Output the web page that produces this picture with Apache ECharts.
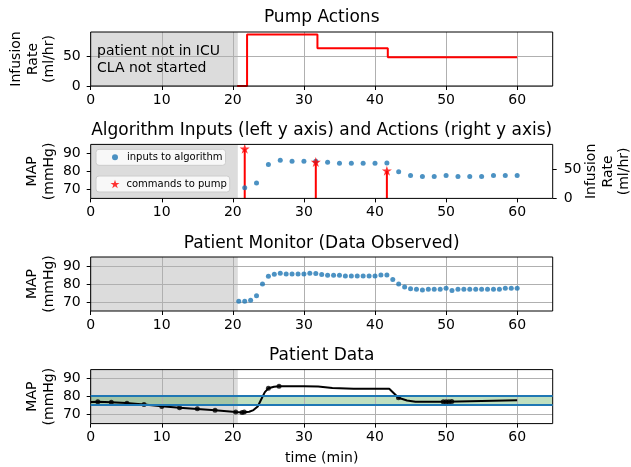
<!DOCTYPE html>
<html>
<head>
<meta charset="utf-8">
<script src="https://cdn.jsdelivr.net/npm/echarts@6/dist/echarts.min.js"></script>
<style>
html,body{margin:0;padding:0;background:#fff;}
#chart{width:631px;height:467px;}
</style>
</head>
<body>
<div id="chart"></div>
<script>
// x axis / shared
var timeTicks = [0, 10, 20, 30, 40, 50, 60];
var mapTicks = [70, 80, 90];
var rateTicks = [0, 50];
var notStartedEnd = 20.7; // grey "patient not in ICU" region ends here (min)

// Pump Actions (step line)
var pumpTimes = [20.6, 22.0, 31.9, 41.8, 60];
var pumpRates = [0, 86, 63, 48, 48];

// Algorithm inputs (left axis) and commands (right axis)
var inputTimes = [21.67, 23.33, 25, 26.67, 28.33, 30, 31.67, 33.33, 35, 36.67, 38.33, 40,
  41.67, 43.33, 45, 46.67, 48.33, 50, 51.67, 53.33, 55, 56.67, 58.33, 60];
var inputMap = [70.9, 73.6, 83.9, 86.2, 85.6, 85.6, 85.6, 85.1, 84.5, 84.5, 84.5, 84.5,
  84.7, 79.8, 77.7, 77.1, 77.1, 77.7, 77.1, 77.1, 77.1, 77.7, 77.7, 77.7];
var cmdTimes = [21.67, 31.67, 41.67];
var cmdRates = [86, 63, 48];

// Patient monitor (observed)
var monitorTimes = [20.83, 21.67, 22.5, 23.33, 24.17, 25, 25.83, 26.67, 27.5, 28.33, 29.17, 30,
  30.83, 31.67, 32.5, 33.33, 34.17, 35, 35.83, 36.67, 37.5, 38.33, 39.17, 40,
  40.83, 41.67, 42.5, 43.33, 44.17, 45, 45.83, 46.67, 47.5, 48.33, 49.17, 50,
  50.83, 51.67, 52.5, 53.33, 54.17, 55, 55.83, 56.67, 57.5, 58.33, 59.17, 60];
var monitorMap = [70.4, 70.4, 71.0, 73.5, 80.0, 84.3, 85.4, 86.0, 85.5, 85.5, 85.5, 85.5,
  86.0, 85.8, 85.3, 84.9, 84.9, 84.9, 84.5, 84.5, 84.5, 84.5, 84.5, 84.5,
  85.0, 85.0, 82.5, 80.0, 78.4, 77.3, 77.1, 76.7, 77.1, 77.1, 77.1, 77.7,
  76.4, 77.1, 77.1, 77.1, 77.1, 77.1, 77.1, 77.1, 77.1, 77.6, 77.6, 77.6];

// Patient data (true MAP curve + sample markers)
var patientTimes = [0, 1, 2.9, 5, 7.5, 10, 12.5, 15, 17.5, 20.4, 21.3, 22.3, 22.9, 23.5, 24.0,
  24.5, 25, 25.8, 26.5, 30, 32, 34, 37, 42, 43.3, 44.5, 45.7, 50, 55, 60];
var patientMap = [77.0, 77.2, 76.9, 76.4, 75.6, 74.6, 73.8, 73.1, 72.4, 71.4, 71.2, 71.6, 72.5, 74.5, 78.5,
  82.5, 84.6, 85.5, 85.8, 85.8, 85.6, 84.8, 84.4, 84.4, 79.4, 77.8, 77.1, 77.2, 77.6, 78.0];
var sampleTimes = [1, 2.9, 5.1, 7.5, 10, 12.5, 15, 17.5, 20.4, 21.3, 21.6, 25, 26.5, 43.3, 49.6, 50, 50.4, 50.8];
var sampleMap = [77.2, 76.9, 76.3, 75.6, 74.5, 73.8, 73.2, 72.4, 71.4, 71.1, 71.4, 84.6, 85.8, 79.3, 77.1, 77.2, 77.2, 77.3];
var targetLow = 75.3, targetHigh = 80.6;

function pairs(xs, ys) {
  return xs.map(function (x, i) { return [x, ys[i]]; });
}

var FONT = 'DejaVu Sans';
var myChart = echarts.init(document.getElementById('chart'), null, {renderer: 'canvas'});

var gridLeft = 90.7, gridW = 462, gridH = 54;
var tops = [32, 144.4, 257, 369.6];
var grids = tops.map(function (t) {
  return {left: gridLeft, width: gridW, top: t, height: gridH, show: true,
    containLabel: false, outerBoundsMode: 'none',
    borderColor: '#000', borderWidth: 1, backgroundColor: 'transparent', z: 5};
});

function xAx(i) {
  return {
    type: 'value', gridIndex: i, min: 0, max: 65, interval: 10, z: 2,
    axisLine: {show: false},
    axisTick: {show: true, length: 4, lineStyle: {color: '#000'}, customValues: timeTicks},
    axisLabel: {fontSize: 14, color: '#000', margin: 7, fontFamily: FONT, customValues: timeTicks},
    splitLine: {show: i !== 1, lineStyle: {color: '#b0b0b0', width: 1}, customValues: timeTicks},
    name: i === 3 ? 'time (min)' : '', nameLocation: 'middle', nameGap: 28,
    nameTextStyle: {fontSize: 14, color: '#000', fontFamily: FONT}
  };
}
function yAx(i, min, max, ticks, pos, grid) {
  return {
    type: 'value', gridIndex: i, min: min, max: max, z: 2,
    position: pos || 'left',
    axisLine: {show: false},
    axisTick: {show: true, length: 4, lineStyle: {color: '#000'}, customValues: ticks},
    axisLabel: {fontSize: 14, color: '#000', margin: pos === 'right' ? 11 : 10, fontFamily: FONT, customValues: ticks},
    splitLine: {show: !!grid, lineStyle: {color: '#b0b0b0', width: 1}, customValues: ticks}
  };
}

function greyArea(i) {
  return {
    type: 'line', xAxisIndex: i, yAxisIndex: i, data: [], z: 0, silent: true,
    markArea: {silent: true, itemStyle: {color: 'rgba(0,0,0,0.137)'},
      data: [[{xAxis: 0}, {xAxis: notStartedEnd}]]}
  };
}

// vertical stem from 0 up to the commanded rate
function renderStem(params, api) {
  var top = api.coord([api.value(0), api.value(1)]);
  var base = api.coord([api.value(0), 0]);
  return {type: 'line', shape: {x1: top[0], y1: top[1], x2: base[0], y2: base[1]},
    style: {stroke: 'red', lineWidth: 2}};
}

// rotated y-axis titles
function yTitle(text, x, gridTop) {
  return {type: 'text', x: x, y: gridTop + gridH / 2, rotation: Math.PI / 2, z: 10,
    style: {text: text, fontSize: 14, lineHeight: 16.5, fontFamily: FONT, fill: '#000',
      align: 'center', verticalAlign: 'middle'}};
}
function title(text, y) {
  return {type: 'text', x: gridLeft + gridW / 2, y: y, z: 10,
    style: {text: text, fontSize: 17, fontFamily: FONT, fill: '#000', align: 'center', verticalAlign: 'middle'}};
}

var starPath = 'path://M50,0 L62,36 L100,36 L69,58 L81,95 L50,72 L19,95 L31,58 L0,36 L38,36 Z';

var option = {
  animation: false,
  textStyle: {fontFamily: FONT},
  grid: grids,
  xAxis: [xAx(0), xAx(1), xAx(2), xAx(3)],
  yAxis: [
    yAx(0, 0, 90, rateTicks, 'left', true),
    yAx(1, 65, 95, mapTicks, 'left', false),
    yAx(2, 65, 95, mapTicks, 'left', true),
    yAx(3, 65, 95, mapTicks, 'left', true),
    yAx(1, 0, 93.6, rateTicks, 'right', false)
  ],
  legend: [
    {data: ['inputs to algorithm'], left: 96, top: 149.3, padding: [3, 3, 3, 16],
      itemWidth: 6, itemHeight: 6, backgroundColor: 'rgba(255,255,255,0.8)',
      borderColor: '#cccccc', borderWidth: 1, borderRadius: 3, z: 8,
      textStyle: {fontSize: 10, color: '#000', fontFamily: FONT, padding: [0, 0, 0, 4]}},
    {data: ['commands to pump'], left: 96, top: 176, padding: [3, 3, 3, 14.5],
      itemWidth: 9, itemHeight: 9, backgroundColor: 'rgba(255,255,255,0.8)',
      borderColor: '#cccccc', borderWidth: 1, borderRadius: 3, z: 8,
      textStyle: {fontSize: 10, color: '#000', fontFamily: FONT, padding: [0, 0, 0, 2]}}
  ],
  graphic: [
    title('Pump Actions', 18),
    title('Algorithm Inputs (left y axis) and Actions (right y axis)', 130.5),
    title('Patient Monitor (Data Observed)', 243.5),
    title('Patient Data', 356),
    {type: 'text', x: 97, y: 43.5, z: 10, style: {text: 'patient not in ICU\nCLA not started', fontSize: 14, lineHeight: 16.5, fontFamily: FONT, fill: '#000'}},
    yTitle('Infusion\nRate\n(ml/hr)', 33, tops[0]),
    yTitle('MAP\n(mmHg)', 40.8, tops[1]),
    yTitle('MAP\n(mmHg)', 40.8, tops[2]),
    yTitle('MAP\n(mmHg)', 40.8, tops[3]),
    yTitle('Infusion\nRate\n(ml/hr)', 608.2, tops[1])
  ],
  series: [
    greyArea(0), greyArea(1), greyArea(2), greyArea(3),
    // Pump actions
    {type: 'line', xAxisIndex: 0, yAxisIndex: 0, step: 'end', showSymbol: false, z: 3,
      lineStyle: {color: 'red', width: 2}, data: pairs(pumpTimes, pumpRates)},
    // Algorithm inputs
    {name: 'inputs to algorithm', type: 'scatter', xAxisIndex: 1, yAxisIndex: 1, z: 3,
      symbolSize: 5, itemStyle: {color: '#1f77b4'}, data: pairs(inputTimes, inputMap)},
    {type: 'custom', xAxisIndex: 1, yAxisIndex: 4, z: 3, renderItem: renderStem,
      encode: {x: 0, y: 1}, data: pairs(cmdTimes, cmdRates)},
    {name: 'commands to pump', type: 'scatter', xAxisIndex: 1, yAxisIndex: 4, z: 4,
      symbol: starPath, symbolSize: 10, itemStyle: {color: 'red'}, data: pairs(cmdTimes, cmdRates)},
    // Patient monitor
    {type: 'scatter', xAxisIndex: 2, yAxisIndex: 2, z: 3, symbolSize: 5,
      itemStyle: {color: '#1f77b4'}, data: pairs(monitorTimes, monitorMap)},
    // Patient data: target band
    {type: 'line', xAxisIndex: 3, yAxisIndex: 3, data: [], z: 1, silent: true,
      markArea: {silent: true, itemStyle: {color: 'rgba(0,128,0,0.25)'},
        data: [[{yAxis: targetLow}, {yAxis: targetHigh}]]},
      markLine: {silent: true, symbol: 'none', label: {show: false},
        lineStyle: {color: '#1f77b4', width: 2, type: 'solid'},
        data: [{yAxis: targetLow}, {yAxis: targetHigh}]}},
    {type: 'line', xAxisIndex: 3, yAxisIndex: 3, showSymbol: false, z: 4,
      lineStyle: {color: '#000', width: 2}, data: pairs(patientTimes, patientMap)},
    {type: 'scatter', xAxisIndex: 3, yAxisIndex: 3, z: 4, symbolSize: 5,
      itemStyle: {color: '#000'}, data: pairs(sampleTimes, sampleMap)}
  ]
};
myChart.setOption(option);
window.addEventListener('resize', function () { myChart.resize(); });
</script>
</body>
</html>
